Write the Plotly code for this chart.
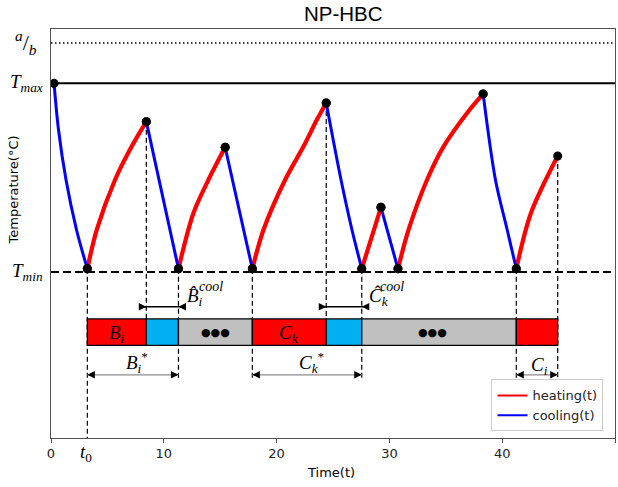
import plotly.graph_objects as go

# ---------------- data (time t ; temperature normalised: T_min = 0, T_max = 1) ----------------
heat_t = [
    [3.22, 4.06, 5.68, 7.16, 8.45],
    [11.30, 12.63, 13.96, 15.44],
    [17.85, 18.84, 20.76, 22.39, 23.58, 24.40],
    [27.55, 29.25],
    [30.76, 31.70, 33.34, 34.81, 36.89, 38.31],
    [41.25, 42.55, 44.92],
]
heat_v = [
    [0.017, 0.224, 0.489, 0.666, 0.797],
    [0.017, 0.313, 0.489, 0.661],
    [0.017, 0.224, 0.489, 0.666, 0.808, 0.896],
    [0.017, 0.343],
    [0.017, 0.224, 0.489, 0.666, 0.843, 0.944],
    [0.017, 0.313, 0.615],
]
cool_t = [
    [0.27, 0.665, 1.33, 2.26, 3.22],
    [8.45, 11.30],
    [15.44, 17.85],
    [24.40, 25.71, 26.68, 27.55],
    [29.25, 30.76],
    [38.31, 39.40, 40.44, 41.25],
]
cool_v = [
    [1.0, 0.754, 0.489, 0.224, 0.017],
    [0.797, 0.017],
    [0.661, 0.017],
    [0.896, 0.489, 0.224, 0.017],
    [0.343, 0.017],
    [0.944, 0.489, 0.224, 0.017],
]

T_MIN = 0.0
T_MAX = 1.0
A_OVER_B = 1.214
t0 = 3.22

# schedule bar
bar_edges = [3.22, 8.45, 11.30, 17.85, 24.40, 27.55, 41.25, 44.92]
bar_kinds = ["heat", "cool", "idle", "heat", "cool", "idle", "heat"]
bar_text = ["<i>B</i><sub><i>i</i></sub>", "", "\u25CF\u25CF\u25CF",
            "<i>C</i><sub><i>k</i></sub>", "", "\u25CF\u25CF\u25CF", ""]
bar_text_t = [None, None, 14.6, None, None, 33.8, None]

# vertical guide lines
guide_t = [3.22, 8.45, 11.30, 17.85, 24.40, 27.55, 41.25, 44.92]
guide_top = [0.017, 0.797, 0.017, 0.017, 0.896, 0.017, 0.017, 0.615]
guide_end = ["axis", "bar", "span", "span", "bar", "span", "span", "span"]

# spans
cool_spans = [(8.45, 11.30), (24.40, 27.55)]
star_spans = [(3.22, 11.30), (17.85, 27.55), (41.25, 44.92)]

x_ticks = [0, 10, 20, 30, 40, 50]

# ---------------- styling constants ----------------
Y_RANGE = [-0.880, 1.288]
BAR_LO, BAR_HI = -0.389, -0.249
COOL_Y = -0.184
STAR_Y = -0.545
HEAD = 0.6  # arrow head length in t units
SERIF = "Liberation Serif"
SANS = "DejaVu Sans"
MATH = 19
bar_colors = {"heat": "#ff0000", "cool": "#00b0f0", "idle": "#c0c0c0"}

fig = go.Figure()

# curves
for tt, vv in zip(heat_t, heat_v):
    fig.add_trace(go.Scatter(x=tt, y=vv, mode="lines", showlegend=False,
                             line=dict(color="#ff0000", width=4.2, shape="spline", smoothing=0.9),
                             hoverinfo="skip"))
for tt, vv in zip(cool_t, cool_v):
    fig.add_trace(go.Scatter(x=tt, y=vv, mode="lines", showlegend=False,
                             line=dict(color="#0000ff", width=3, shape="spline", smoothing=0.9),
                             hoverinfo="skip"))

# dots at segment ends
dot_t, dot_v = [], []
for tt, vv in list(zip(heat_t, heat_v)) + list(zip(cool_t, cool_v)):
    dot_t += [tt[0], tt[-1]]
    dot_v += [vv[0], vv[-1]]
fig.add_trace(go.Scatter(x=dot_t, y=dot_v, mode="markers", showlegend=False,
                         marker=dict(color="black", size=9), hoverinfo="skip"))

# legend entries
fig.add_trace(go.Scatter(x=[None], y=[None], mode="lines", name="heating(t)",
                         line=dict(color="#ff0000", width=2)))
fig.add_trace(go.Scatter(x=[None], y=[None], mode="lines", name="cooling(t)",
                         line=dict(color="#0000ff", width=2)))

shapes = []
# horizontal reference lines
shapes.append(dict(type="line", xref="paper", yref="y", x0=0, x1=1, y0=T_MAX, y1=T_MAX,
                   line=dict(color="black", width=2), layer="below"))
shapes.append(dict(type="line", xref="paper", yref="y", x0=0, x1=1, y0=T_MIN, y1=T_MIN,
                   line=dict(color="black", width=2, dash="8px,4px"), layer="below"))
shapes.append(dict(type="line", xref="paper", yref="y", x0=0, x1=1, y0=A_OVER_B, y1=A_OVER_B,
                   line=dict(color="black", width=1.5, dash="1.5px,2.5px"), layer="below"))

# vertical guides
ends = {"axis": Y_RANGE[0], "bar": (BAR_LO + BAR_HI) / 2, "span": STAR_Y - 0.015}
for gt, gtop, ge in zip(guide_t, guide_top, guide_end):
    shapes.append(dict(type="line", xref="x", yref="y", x0=gt, x1=gt, y0=gtop, y1=ends[ge],
                       line=dict(color="black", width=1.2, dash="5px,3px"), layer="below"))

# schedule bar
for i, kind in enumerate(bar_kinds):
    shapes.append(dict(type="rect", xref="x", yref="y", x0=bar_edges[i], x1=bar_edges[i + 1],
                       y0=BAR_LO, y1=BAR_HI, fillcolor=bar_colors[kind],
                       line=dict(color="black", width=1.3), layer="below"))

# span lines
for a, b in cool_spans:
    shapes.append(dict(type="line", xref="x", yref="y", x0=a - HEAD, x1=b + HEAD, y0=COOL_Y, y1=COOL_Y,
                       line=dict(color="black", width=1.5), layer="above"))
for a, b in star_spans:
    shapes.append(dict(type="line", xref="x", yref="y", x0=a, x1=b, y0=STAR_Y, y1=STAR_Y,
                       line=dict(color="#8a8a8a", width=1.3), layer="above"))

annotations = []


def head(tip, tail, y):
    annotations.append(dict(x=tip, y=y, ax=tail, ay=y, xref="x", yref="y", axref="x", ayref="y",
                            text="", showarrow=True, arrowhead=2, arrowsize=1.25, arrowwidth=1.2,
                            arrowcolor="black", standoff=0, startstandoff=0))


for a, b in cool_spans:
    head(a, a - HEAD, COOL_Y)
    head(b, b + HEAD, COOL_Y)
for a, b in star_spans:
    head(a, a + HEAD, STAR_Y)
    head(b, b - HEAD, STAR_Y)


def label(x, y, text, size=MATH, xanchor="left", font=SERIF, xref="x", yref="y",
          yanchor="middle", **kw):
    annotations.append(dict(x=x, y=y, xref=xref, yref=yref, text=text, showarrow=False,
                            xanchor=xanchor, yanchor=yanchor,
                            font=dict(family=font, size=size, color="black"), **kw))


# bar labels
for i, txt in enumerate(bar_text):
    if not txt:
        continue
    if "\u25CF" in txt:
        label(bar_text_t[i], (BAR_LO + BAR_HI) / 2, txt, size=11, xanchor="center", font=SANS)
    else:
        cx = (bar_edges[i] + bar_edges[i + 1]) / 2
        label(cx, (BAR_LO + BAR_HI) / 2 - 0.012, txt, xanchor="center")

# span labels
label(11.85, -0.135, "<i>B\u0302</i><sub><i>i</i></sub>")
label(12.95, -0.075, "<i>cool</i>", size=14)
label(28.05, -0.135, "<i>C\u0302</i><sub><i>k</i></sub>")
label(29.0, -0.075, "<i>cool</i>", size=14)
label(6.45, -0.480, "<i>B</i><sub><i>i</i></sub><sup>*</sup>")
label(21.8, -0.480, "<i>C</i><sub><i>k</i></sub><sup>*</sup>")
label(42.4, -0.497, "<i>C</i><sub><i>i</i></sub>")

# y-axis labels
label(-0.021, A_OVER_B, "<i><sup>a</sup></i>/<i><sub>b</sub></i>", size=22, xanchor="right", xref="paper")
label(-0.010, T_MAX, "<i>T</i><sub><i>max</i></sub>", xanchor="right", xref="paper")
label(-0.010, T_MIN, "<i>T</i><sub><i>min</i></sub>", xanchor="right", xref="paper")
label(-0.066, 0.607, "Temperature(\u00B0C)", size=13, xanchor="center", font=SANS,
      xref="paper", yref="paper", textangle=-90)

# x-axis extra labels
label(t0 - 0.1, -0.036, "<i>t</i><sub>0</sub>", xanchor="center", yref="paper")
label(0.4965, -0.085, "Time(t)", size=13, xanchor="center", font=SANS, xref="paper", yref="paper")
label(0.5195, 1.0716, "NP-HBC", size=20.5, xanchor="center", font="Liberation Sans",
      xref="paper", yref="paper", yanchor="top")

fig.update_layout(
    width=618, height=487,
    margin=dict(l=51, r=3, t=29, b=49),
    paper_bgcolor="white", plot_bgcolor="white",
    shapes=shapes, annotations=annotations,
    showlegend=True,
    legend=dict(x=0.781, y=0.016, xanchor="left", yanchor="bottom",
                bgcolor="rgba(255,255,255,0.85)", bordercolor="#cccccc", borderwidth=1,
                tracegroupgap=0,
                font=dict(family=SANS, size=13, color="#222")),
    xaxis=dict(range=[0, 50], tickvals=x_ticks, showgrid=False, zeroline=False,
               showline=True, linecolor="#505050", linewidth=1.3, mirror=True,
               ticks="outside", ticklen=3.5, tickwidth=1, tickcolor="#505050",
               tickfont=dict(family=SANS, size=13, color="#222")),
    yaxis=dict(range=Y_RANGE, showticklabels=False, ticks="", showgrid=False, zeroline=False,
               showline=True, linecolor="#505050", linewidth=1.3, mirror=True),
)

fig.write_html("out.html")
